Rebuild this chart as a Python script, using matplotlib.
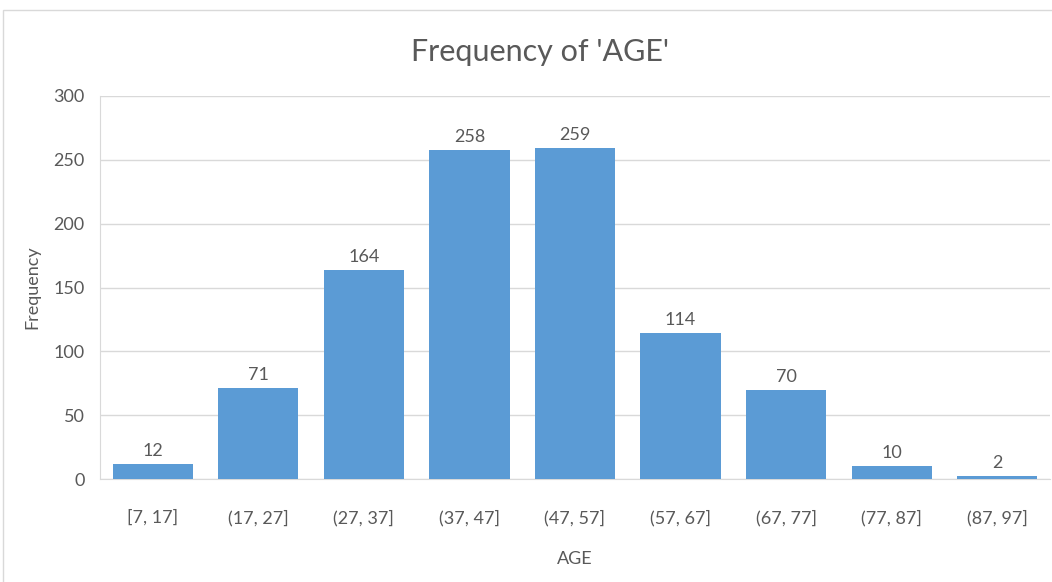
import matplotlib
matplotlib.use("Agg")
import matplotlib.pyplot as plt
from matplotlib.patches import Rectangle

# age bins and counts
bins = ['[7, 17]', '(17, 27]', '(27, 37]', '(37, 47]', '(47, 57]',
        '(57, 67]', '(67, 77]', '(77, 87]', '(87, 97]']
counts = [12, 71, 164, 258, 259, 114, 70, 10, 2]
yticks = [0, 50, 100, 150, 200, 250, 300]

plt.rcParams['font.family'] = ['Lato', 'DejaVu Sans']
txt = '#595959'
grid = '#D9D9D9'

fig = plt.figure(figsize=(10.52, 5.82), dpi=100)
ax = fig.add_axes([100 / 1052, 1 - 479 / 582, 950 / 1052, 383 / 582])

# light chart frame (cut off at right/bottom)
fig.patches.append(Rectangle((3 / 1052, -0.1), 1.2, (582 - 10) / 582 + 0.1,
                             transform=fig.transFigure, fill=False,
                             edgecolor='#D9D9D9', linewidth=1))

x = list(range(len(bins)))
bars = ax.bar(x, counts, width=0.76, color='#5B9BD5', zorder=3)
for b, c in zip(bars, counts):
    ax.text(b.get_x() + b.get_width() / 2, c + 4, str(c), ha='center', va='bottom',
            fontsize=13, color=txt)

ax.set_xlim(-0.5, len(bins) - 0.5)
ax.set_ylim(0, 300)
ax.set_yticks(yticks)
ax.set_xticks(x)
ax.set_xticklabels(bins)
ax.yaxis.grid(True, color=grid, linewidth=1, zorder=0)
ax.tick_params(axis='both', length=0, labelsize=13, labelcolor=txt)
ax.tick_params(axis='x', pad=22)
ax.tick_params(axis='y', pad=11)
for s in ['top', 'right']:
    ax.spines[s].set_visible(False)
for s in ['left', 'bottom']:
    ax.spines[s].set_color(grid)

fig.text(540 / 1052, 1 - 52 / 582, "Frequency of 'AGE'", fontsize=22, color=txt,
         ha='center', va='center')
ax.set_xlabel('AGE', fontsize=13, color=txt, labelpad=18)
fig.text(32 / 1052, 1 - 287 / 582, 'Frequency', fontsize=13, color=txt,
         rotation=90, ha='center', va='center')

fig.savefig('out.png', dpi=100)
